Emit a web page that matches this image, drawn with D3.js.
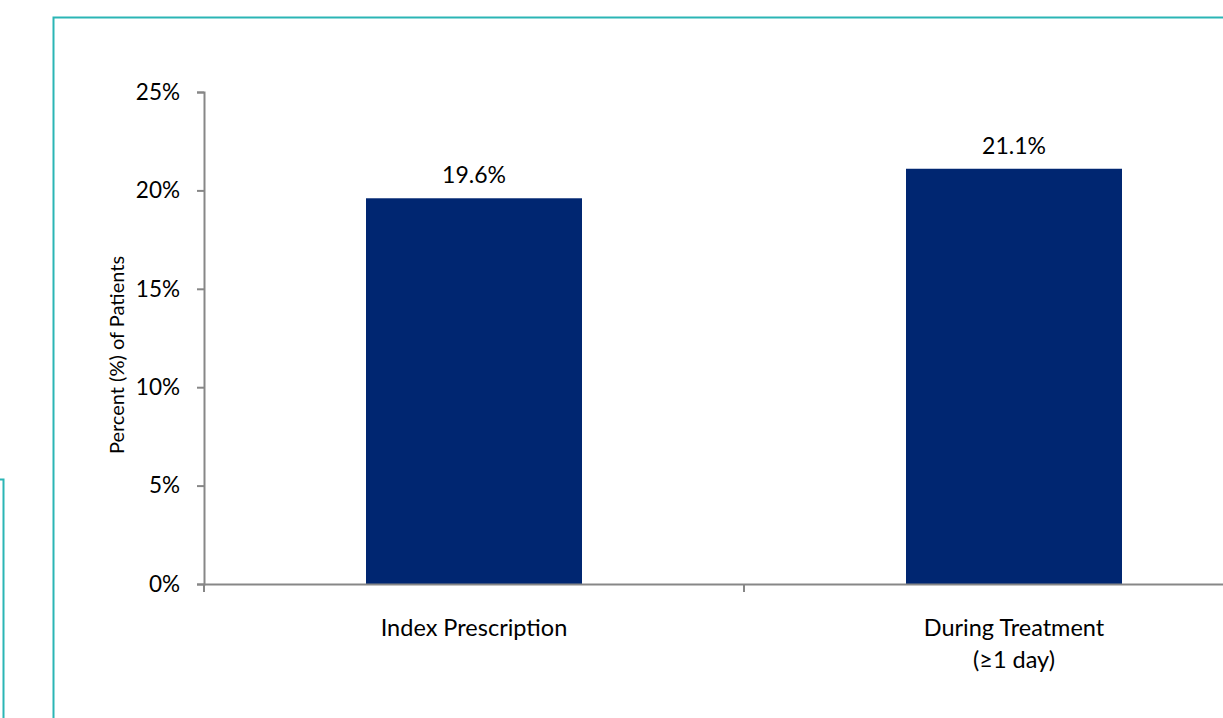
<!DOCTYPE html>
<html><head><meta charset="utf-8">
<script src="https://cdn.jsdelivr.net/npm/d3@7"></script>
<style>body{margin:0;background:#fff;} svg{display:block;} text{font-family:Lato, "Open Sans", sans-serif;fill:#000;}</style>
</head><body>
<svg id="c" width="1223" height="718"></svg>
<script>
const categories = ["Index Prescription", "During Treatment\n(≥1 day)"];
const values = [19.6, 21.1];
const valueLabels = ["19.6%", "21.1%"];
const yTicks = [0, 5, 10, 15, 20, 25];
const yTitle = "Percent (%) of Patients";

const svg = d3.select("#c");
const teal = "#2bb5b5";
// decorative teal frame lines
svg.append("path").attr("d","M53.5,718 V17.5 H1223").attr("fill","none").attr("stroke",teal).attr("stroke-width",2);
svg.append("path").attr("d","M0,479.5 H3.5 V718").attr("fill","none").attr("stroke",teal).attr("stroke-width",2);

const x = d3.scaleBand().domain(categories).range([204,1284]).paddingInner(0).paddingOuter(0);
const y = d3.scaleLinear().domain([0,25]).range([584,92]);
const barW = x.bandwidth()*0.4;

svg.selectAll("rect.bar").data(values).join("rect")
  .attr("x",(d,i)=>x(categories[i])+x.bandwidth()/2-barW/2)
  .attr("y",d=>y(d)).attr("width",barW).attr("height",d=>y(0)-y(d)).attr("fill","#002671");

svg.selectAll("text.val").data(values).join("text")
  .attr("x",(d,i)=>x(categories[i])+x.bandwidth()/2).attr("y",d=>y(d)-15)
  .attr("text-anchor","middle").attr("font-size",23).text((d,i)=>valueLabels[i]);

const axisCol = "#878787";
const yAxis = svg.append("g").attr("transform","translate(204,0)")
  .call(d3.axisLeft(y).tickValues(yTicks).tickSize(7).tickPadding(17).tickFormat(d=>d+"%"));
yAxis.selectAll("text").attr("font-size",22.5).attr("font-family","Lato").attr("fill","#000");
const xAxis = svg.append("g").attr("transform","translate(0,584)")
  .call(d3.axisBottom(x).tickValues([]).tickSizeOuter(0));
// category boundary ticks
const bounds = [204, 204 + x.bandwidth(), 204 + 2*x.bandwidth()];
xAxis.selectAll("line.b").data(bounds).join("line").attr("class","b")
  .attr("x1",d=>d).attr("x2",d=>d).attr("y1",0).attr("y2",8).attr("stroke",axisCol).attr("stroke-width",2);
svg.selectAll(".domain").attr("stroke",axisCol).attr("stroke-width",2);
yAxis.selectAll(".tick line").attr("stroke",axisCol).attr("stroke-width",2);

categories.forEach((c,i)=>{
  const t = svg.append("text").attr("x",x(c)+x.bandwidth()/2).attr("y",636).attr("text-anchor","middle").attr("font-size",23.5);
  c.split("\n").forEach((line,j)=>t.append("tspan").attr("x",x(c)+x.bandwidth()/2).attr("dy",j?32:0).text(line));
});

svg.append("text").attr("transform","translate(124,355) rotate(-90)").attr("text-anchor","middle").attr("font-size",20).text(yTitle);
</script>
</body></html>
